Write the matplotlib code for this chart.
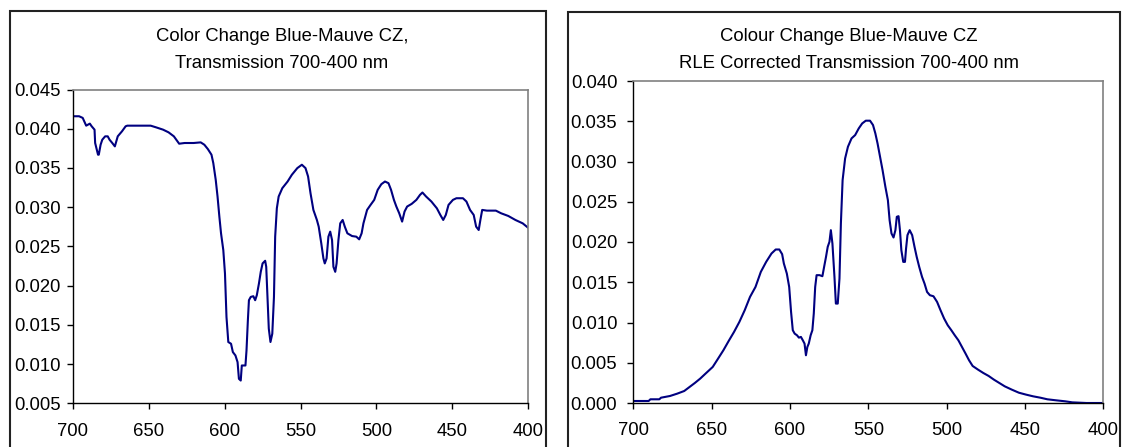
import matplotlib
matplotlib.use("Agg")
import matplotlib.pyplot as plt
from matplotlib.patches import Rectangle
from matplotlib.ticker import FormatStrFormatter

plt.rcParams['font.family'] = ['Liberation Sans', 'DejaVu Sans']

# transmission (wavelength nm, value)
wl_trans = [700, 696.0, 693.6, 691.3, 688.9, 687.7, 685.8, 685.4, 683.5, 683.0,
            681.8, 680.7, 678.8, 677.1, 675.9, 674.1, 672.4, 670.5, 667.7, 665.3,
            664.2, 648.8, 645.3, 640.6, 637.0, 633.5, 631.1, 630.0, 626.4, 620.5,
            615.8, 613.4, 611.1, 608.7, 607.5, 605.9, 604.7, 603.5, 602.4, 600.9,
            599.8, 598.8, 597.6, 595.8, 594.6, 592.9, 591.5, 590.6, 589.4, 588.7,
            586.3, 585.6, 584.7, 584.0, 582.8, 581.1, 579.9, 578.8, 577.4, 576.2,
            575.0, 573.3, 572.6, 571.7, 570.9, 569.8, 568.6, 567.5, 566.7, 565.6,
            564.4, 562.0, 558.5, 555.7, 552.1, 549.1, 546.7, 545.0, 543.4, 541.5,
            539.2, 538.0, 536.3, 534.9, 534.0, 532.8, 531.6, 530.4, 529.2, 528.3,
            527.1, 526.2, 525.0, 523.8, 522.2, 520.8, 519.1, 516.0, 513.2, 511.3,
            509.7, 508.5, 506.1, 503.8, 501.4, 499.1, 496.7, 494.3, 492.0, 490.3,
            488.4, 486.8, 484.9, 483.0, 481.4, 479.7, 476.7, 473.6, 471.2, 469.6,
            467.2, 463.7, 460.1, 457.8, 455.9, 454.2, 452.4, 449.5, 447.2, 442.9,
            440.6, 438.2, 435.8, 434.2, 432.5, 431.4, 430.2, 427.1, 421.2, 417.7,
            413.0, 408.3, 403.5, 400.0]
trans = [0.04159, 0.04159, 0.04138, 0.04039, 0.04065, 0.04031, 0.03988, 0.03818, 0.03669, 0.03669,
         0.03796, 0.03860, 0.03903, 0.03903, 0.03860, 0.03818, 0.03775, 0.03903, 0.03967, 0.04031,
         0.04039, 0.04039, 0.04018, 0.03988, 0.03954, 0.03903, 0.03839, 0.03809, 0.03818, 0.03818,
         0.03826, 0.03796, 0.03741, 0.03669, 0.03562, 0.03349, 0.03136, 0.02880, 0.02667, 0.02453,
         0.02155, 0.01600, 0.01281, 0.01259, 0.01153, 0.01110, 0.01025, 0.00812, 0.00790, 0.00982,
         0.00982, 0.01174, 0.01558, 0.01814, 0.01856, 0.01865, 0.01814, 0.01878, 0.02027, 0.02176,
         0.02283, 0.02317, 0.02240, 0.01814, 0.01451, 0.01281, 0.01387, 0.01856, 0.02624, 0.02986,
         0.03136, 0.03242, 0.03327, 0.03413, 0.03498, 0.03541, 0.03498, 0.03391, 0.03178, 0.02965,
         0.02837, 0.02752, 0.02539, 0.02347, 0.02283, 0.02347, 0.02624, 0.02688, 0.02581, 0.02240,
         0.02176, 0.02283, 0.02581, 0.02794, 0.02837, 0.02752, 0.02667, 0.02632, 0.02624, 0.02590,
         0.02667, 0.02794, 0.02965, 0.03029, 0.03093, 0.03221, 0.03293, 0.03327, 0.03306, 0.03221,
         0.03093, 0.03008, 0.02922, 0.02816, 0.02944, 0.03008, 0.03042, 0.03093, 0.03157, 0.03187,
         0.03136, 0.03072, 0.02986, 0.02901, 0.02837, 0.02901, 0.03029, 0.03093, 0.03114, 0.03114,
         0.03072, 0.02965, 0.02901, 0.02752, 0.02709, 0.02837, 0.02965, 0.02956, 0.02956, 0.02922,
         0.02888, 0.02837, 0.02794, 0.02739]

# RLE corrected transmission
wl_rle = [700, 690.2, 689.1, 683.4, 682.3, 676.6, 672.0, 667.5, 664.1, 660.7,
          657.3, 653.9, 649.3, 645.9, 642.5, 639.1, 635.7, 632.3, 628.9, 625.5,
          622.0, 618.6, 615.2, 611.8, 609.1, 606.8, 605.0, 603.9, 602.0, 600.5,
          599.3, 598.2, 597.0, 595.5, 594.3, 593.0, 591.8, 590.7, 589.8, 588.9,
          588.0, 586.8, 585.7, 584.8, 583.9, 583.0, 581.1, 579.3, 578.2, 577.0,
          575.9, 574.8, 573.9, 572.9, 571.6, 570.7, 569.5, 568.4, 567.5, 566.4,
          564.8, 563.0, 560.7, 558.4, 556.1, 553.9, 551.6, 548.9, 547.0, 545.5,
          544.1, 542.5, 540.9, 539.1, 537.5, 536.4, 535.2, 533.9, 532.7, 531.8,
          530.7, 529.8, 528.9, 527.7, 526.6, 525.9, 525.0, 523.6, 522.0, 520.5,
          519.1, 517.5, 515.7, 514.1, 512.5, 510.7, 508.4, 506.1, 503.9, 501.6,
          499.3, 497.0, 494.8, 492.5, 490.2, 487.9, 485.7, 483.4, 480.0, 476.6,
          473.2, 469.8, 466.4, 462.9, 458.4, 453.9, 449.3, 444.8, 440.2, 435.7,
          430.0, 424.3, 419.8, 410.7, 400.0]
rle = [0.00025, 0.00025, 0.00046, 0.00046, 0.00066, 0.00087, 0.00116, 0.00149, 0.00199, 0.00249,
       0.00303, 0.00365, 0.00448, 0.00551, 0.00655, 0.00771, 0.00883, 0.01007, 0.01152, 0.01318,
       0.01442, 0.01629, 0.01753, 0.01857, 0.01907, 0.01907, 0.01849, 0.01733, 0.01608, 0.01442,
       0.01132, 0.00904, 0.00862, 0.00841, 0.00812, 0.00821, 0.00779, 0.00738, 0.00593, 0.00696,
       0.00738, 0.00841, 0.00904, 0.01111, 0.01442, 0.01588, 0.01588, 0.01575, 0.01691, 0.01815,
       0.01940, 0.02002, 0.02147, 0.01981, 0.01567, 0.01235, 0.01235, 0.01546, 0.02230, 0.02769,
       0.03038, 0.03183, 0.03287, 0.03328, 0.03411, 0.03473, 0.03507, 0.03507, 0.03453, 0.03349,
       0.03225, 0.03059, 0.02893, 0.02686, 0.02520, 0.02271, 0.02106, 0.02056, 0.02147, 0.02313,
       0.02321, 0.02147, 0.01898, 0.01753, 0.01753, 0.01919, 0.02085, 0.02147, 0.02085, 0.01940,
       0.01815, 0.01691, 0.01567, 0.01483, 0.01380, 0.01339, 0.01326, 0.01256, 0.01152, 0.01049,
       0.00966, 0.00904, 0.00841, 0.00779, 0.00696, 0.00613, 0.00531, 0.00460, 0.00415, 0.00373,
       0.00336, 0.00290, 0.00249, 0.00207, 0.00166, 0.00128, 0.00104, 0.00083, 0.00066, 0.00046,
       0.00033, 0.00021, 0.00008, 0.0, 0.0]

x_ticks = [700, 650, 600, 550, 500, 450, 400]

W, H = 1123, 447
fig = plt.figure(figsize=(W / 100, H / 100), dpi=100)

# outer chart frames (open at the bottom, cut off like the original)
for x0, x1, top in [(10, 545.7, 10.7), (567.5, 1120, 11.7)]:
    fig.add_artist(Rectangle((x0 / W, -0.1), (x1 - x0) / W, 1 - top / H + 0.1,
                             transform=fig.transFigure, fill=False,
                             ec='#222222', lw=1.5))

navy = '#000080'


def setup(ax, ylim, yticks, ypad):
    ax.set_xlim(700, 400)
    ax.set_ylim(*ylim)
    ax.set_xticks(x_ticks)
    ax.set_yticks(yticks)
    ax.yaxis.set_major_formatter(FormatStrFormatter('%.3f'))
    for s in ['top', 'right']:
        ax.spines[s].set_color('#808080')
        ax.spines[s].set_linewidth(1.2)
    for s in ['left', 'bottom']:
        ax.spines[s].set_color('black')
        ax.spines[s].set_linewidth(1.0)
    ax.tick_params(axis='both', direction='out', length=4, width=1, labelsize=13.3)
    ax.tick_params(axis='x', pad=10)
    ax.tick_params(axis='y', pad=ypad)


ax1 = fig.add_axes([73 / W, 1 - 403.3 / H, 455 / W, 313.8 / H])
ax1.plot(wl_trans, trans, color=navy, lw=1.5)
setup(ax1, (0.005, 0.045), [0.005 + 0.005 * i for i in range(9)], 5)

ax2 = fig.add_axes([633.3 / W, 1 - 403 / H, 470 / W, 322 / H])
ax2.plot(wl_rle, rle, color=navy, lw=1.5)
setup(ax2, (0.0, 0.04), [0.005 * i for i in range(9)], 7.5)

fig.text(282 / W, 1 - 36.7 / H, 'Color Change Blue-Mauve CZ,', ha='center', va='center', fontsize=13.3)
fig.text(282 / W, 1 - 63.3 / H, 'Transmission 700-400 nm', ha='center', va='center', fontsize=13.3)
fig.text(849 / W, 1 - 36.7 / H, 'Colour Change Blue-Mauve CZ', ha='center', va='center', fontsize=13.3)
fig.text(849 / W, 1 - 63.3 / H, 'RLE Corrected Transmission 700-400 nm', ha='center', va='center', fontsize=13.3)

fig.savefig('out.png', dpi=100)
